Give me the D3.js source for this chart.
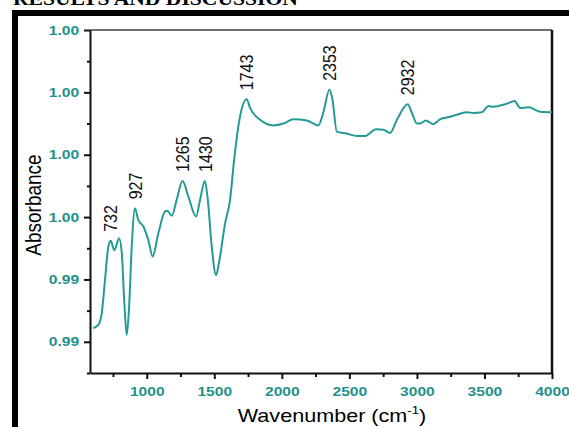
<!DOCTYPE html>
<html>
<head>
<meta charset="utf-8">
<script src="https://cdn.jsdelivr.net/npm/d3@7"></script>
<style>
  body { margin: 0; background: #fff; }
  svg { display: block; }
</style>
</head>
<body>
<div class="chart"></div>
<script>
// spectrum
var wavenumber = [604, 641, 667, 691, 716, 733, 760, 795, 815, 834,
  852, 871, 889, 913, 938, 975, 1012, 1044, 1086, 1136,
  1153, 1185, 1222, 1265, 1308, 1365, 1395, 1430, 1452, 1481,
  1513, 1538, 1580, 1617, 1647, 1686, 1740, 1765, 1839, 1938,
  2012, 2086, 2185, 2271, 2306, 2353, 2375, 2407, 2481, 2556,
  2617, 2698, 2753, 2802, 2852, 2932, 2963, 3000, 3024, 3067,
  3119, 3173, 3247, 3308, 3370, 3419, 3481, 3530, 3567, 3654,
  3723, 3765, 3827, 3913, 4000];
var absorbance = [0.99372, 0.99377, 0.99396, 0.99449, 0.99503, 0.99512, 0.99497, 0.99516, 0.99493, 0.99413,
  0.99361, 0.99413, 0.99503, 0.99564, 0.99545, 0.99535, 0.99513, 0.99487, 0.99524, 0.99559,
  0.99560, 0.99552, 0.99578, 0.99608, 0.99583, 0.99551, 0.99578, 0.99608, 0.99578, 0.99503,
  0.99457, 0.99481, 0.99540, 0.99578, 0.99642, 0.99706, 0.99739, 0.99725, 0.99706, 0.99697,
  0.99700, 0.99707, 0.99705, 0.99697, 0.99717, 0.99754, 0.99738, 0.99687, 0.99684, 0.99680,
  0.99680, 0.99691, 0.99690, 0.99685, 0.99706, 0.99731, 0.99717, 0.99700, 0.99700, 0.99705,
  0.99699, 0.99707, 0.99711, 0.99715, 0.99718, 0.99717, 0.99718, 0.99728, 0.99727, 0.99731,
  0.99736, 0.99725, 0.99726, 0.99719, 0.99718];

// labelled peaks
var peakLabels = [732, 927, 1265, 1430, 1743, 2353, 2932];

// ticks
var xTicks = [1000, 1500, 2000, 2500, 3000, 3500, 4000];
var xMinorTicks = [750, 1250, 1750, 2250, 2750, 3250, 3750];
var yTicks = [0.9985, 0.9975, 0.9965, 0.9955, 0.9945, 0.9935];
var yTickLabels = ["1.00", "1.00", "1.00", "1.00", "0.99", "0.99"];
var yMinorTicks = [0.998, 0.997, 0.996, 0.995, 0.994, 0.993];

var svgWidth = 569;
var svgHeight = 427;
var margin = { top: 30, right: 17, bottom: 54, left: 90 };
var width = svgWidth - margin.left - margin.right;
var height = svgHeight - margin.top - margin.bottom;

var teal = "#239b94";
var tickTeal = "#1f918b";
var stretch = "scale(1.2,1)";

var svg = d3.select(".chart")
  .append("svg")
  .attr("width", svgWidth)
  .attr("height", svgHeight);

// page heading, cut off at the top
svg.append("text")
  .attr("transform", "translate(13,5) " + stretch)
  .attr("font-family", "'Liberation Serif', 'Times New Roman', serif")
  .attr("font-weight", "bold")
  .attr("font-size", 18)
  .attr("fill", "#000")
  .text("RESULTS AND DISCUSSION");

// black page frame
svg.append("rect").attr("x", 12).attr("y", 10).attr("width", 557).attr("height", 6).attr("fill", "#000");
svg.append("rect").attr("x", 12).attr("y", 10).attr("width", 6).attr("height", 417).attr("fill", "#000");

var chart = svg.append("g")
  .attr("transform", "translate(" + margin.left + "," + margin.top + ")");

var x = d3.scaleLinear().domain([580, 4000]).range([0, width]);
var y = d3.scaleLinear().domain([0.993, 0.9985]).range([height, 0]);

// top and right frame lines
chart.append("line")
  .attr("x1", 0).attr("x2", width).attr("y1", 0).attr("y2", 0)
  .attr("stroke", "#707070").attr("stroke-width", 2);
chart.append("line")
  .attr("x1", width).attr("x2", width).attr("y1", 0).attr("y2", height)
  .attr("stroke", "#111").attr("stroke-width", 2.5);

// minor ticks
chart.append("g")
  .attr("transform", "translate(0," + height + ")")
  .call(d3.axisBottom(x).tickValues(xMinorTicks).tickSize(4).tickSizeOuter(0).tickFormat(""))
  .call(function(g) { g.select(".domain").remove(); })
  .selectAll("line").attr("stroke", "#111").attr("stroke-width", 2);
chart.append("g")
  .call(d3.axisLeft(y).tickValues(yMinorTicks).tickSize(3).tickSizeOuter(0).tickFormat(""))
  .call(function(g) { g.select(".domain").remove(); })
  .selectAll("line").attr("stroke", "#111").attr("stroke-width", 2);

// x axis
var xAxis = chart.append("g")
  .attr("class", "x-axis")
  .attr("transform", "translate(0," + height + ")")
  .call(d3.axisBottom(x).tickValues(xTicks).tickSize(6).tickSizeOuter(0).tickFormat(d3.format("d")));
xAxis.select(".domain").attr("stroke", "#111").attr("stroke-width", 2);
xAxis.selectAll("line").attr("stroke", "#111").attr("stroke-width", 2);
xAxis.selectAll("text")
  .attr("y", 14)
  .attr("transform", stretch)
  .attr("fill", tickTeal)
  .attr("font-family", "'Liberation Sans', Arial, sans-serif")
  .attr("font-weight", "bold")
  .attr("font-size", 13);

// y axis
var yAxis = chart.append("g")
  .attr("class", "y-axis")
  .call(d3.axisLeft(y).tickValues(yTicks).tickSize(6).tickSizeOuter(0)
    .tickFormat(function(d, i) { return yTickLabels[i]; }));
yAxis.select(".domain").attr("stroke", "#111").attr("stroke-width", 2);
yAxis.selectAll("line").attr("stroke", "#111").attr("stroke-width", 2);
yAxis.selectAll("text")
  .attr("transform", stretch)
  .attr("fill", tickTeal)
  .attr("font-family", "'Liberation Sans', Arial, sans-serif")
  .attr("font-weight", "bold")
  .attr("font-size", 13);

// spectrum
var points = wavenumber.map(function(w, i) { return [w, absorbance[i]]; });
var line = d3.line()
  .x(function(d) { return x(d[0]); })
  .y(function(d) { return y(d[1]); })
  .curve(d3.curveMonotoneX);

chart.append("path")
  .datum(points)
  .attr("d", line)
  .attr("fill", "none")
  .attr("stroke", teal)
  .attr("stroke-width", 2);

// peak labels, placed over the highest point near each label value
peakLabels.forEach(function(p) {
  var near = points.filter(function(d) { return Math.abs(d[0] - p) <= 25; });
  var top = near.reduce(function(a, b) { return b[1] > a[1] ? b : a; });
  chart.append("text")
    .attr("transform", "translate(" + x(top[0]) + "," + (y(top[1]) - 9) + ") " + stretch + " rotate(-90)")
    .attr("dy", "0.35em")
    .attr("text-anchor", "start")
    .attr("font-family", "'Liberation Sans', Arial, sans-serif")
    .attr("font-size", 16)
    .attr("fill", "#111")
    .text(p);
});

// axis titles
var xTitle = svg.append("text")
  .attr("transform", "translate(332,422) " + stretch)
  .attr("text-anchor", "middle")
  .attr("font-family", "'Liberation Sans', Arial, sans-serif")
  .attr("font-size", 18)
  .attr("fill", "#000");
xTitle.append("tspan").text("Wavenumber (cm");
xTitle.append("tspan").attr("font-size", 11).attr("dy", -8).text("-1");
xTitle.append("tspan").attr("dy", 8).text(")");

svg.append("text")
  .attr("transform", "translate(41,205) " + stretch + " rotate(-90)")
  .attr("text-anchor", "middle")
  .attr("font-family", "'Liberation Sans', Arial, sans-serif")
  .attr("font-size", 19)
  .attr("fill", "#000")
  .text("Absorbance");
</script>
</body>
</html>
